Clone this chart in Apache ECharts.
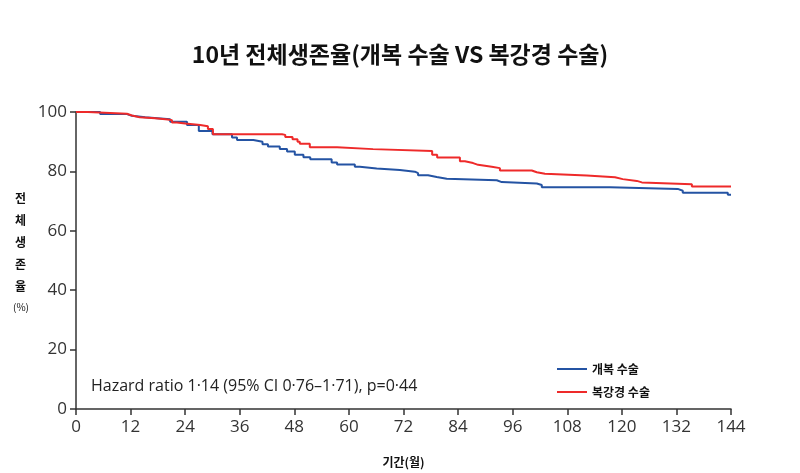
<!DOCTYPE html>
<html>
<head>
<meta charset="utf-8">
<script src="https://cdn.jsdelivr.net/npm/echarts@6/dist/echarts.min.js"></script>
<style>html,body{margin:0;padding:0;background:#fff;}#c{width:800px;height:473px;}</style>
</head>
<body>
<div id="c"></div>
<script>
var titleText = '10년 전체생존율(개복 수술 VS 복강경 수술)';
var seriesNames = ['개복 수술', '복강경 수술'];
var xTicks = [0, 12, 24, 36, 48, 60, 72, 84, 96, 108, 120, 132, 144];
var yTicks = [0, 20, 40, 60, 80, 100];
// [month, survival %] — value after each drop
var openSurgery = [
  [0,100],[5.3,99.3],[11.2,98.7],[12.3,98.2],[15.2,97.6],[20.7,96.7],[24.4,95.6],
  [27,93.6],[30,92.5],[34.3,91.4],[35.4,90.6],[39,90],[41,89.1],[42.2,88.4],
  [44.8,87.5],[46.4,86.7],[48.1,85.6],[50,84.8],[51.5,84.1],[56.2,83],[57.4,82.3],
  [61.3,81.6],[62.4,81],[66.1,80.5],[71.2,79.9],[74.5,79.4],[75.2,78.7],[77.4,78.1],
  [79.3,77.5],[81.5,77],[92.5,76.4],[93.6,75.9],[101.3,75.4],[102.4,74.7],
  [117.4,74.1],[132.3,73.5],[133.4,72.8],[143.3,72.1],[144,72.1]
];
var laparoscopic = [
  [0,100],[2.6,99.4],[11.2,98.8],[12.3,98.2],[14,97.9],[17.4,97.5],[20.2,97.2],
  [21.1,96.5],[22.2,96.1],[24,95.6],[27.3,95.2],[29,94.3],[30.1,92.5],[45.3,92.3],
  [46,91.6],[47.6,90.8],[48.7,90],[49.2,89.3],[51.4,88.1],[57.4,87.5],[65.3,86.9],
  [78.3,85.6],[79.4,84.7],[84.4,83.4],[85.5,82.8],[87.3,82.2],[88.4,81.6],[91.4,81.1],
  [93.2,80.3],[100.2,79.7],[101.3,79.2],[103.1,78.6],[112.3,78],[118.5,77.4],
  [120.2,76.8],[123.3,76.3],[124.4,75.7],[135.4,74.9],[144,74.9]
];
var annotation = 'Hazard ratio 1·14 (95% CI 0·76–1·71), p=0·44';
var xName = '기간(월)';
var yNameChars = ['전', '체', '생', '존', '율'];
var yUnit = '(%)';

// Kaplan–Meier step expansion: hold the previous value until each event time
function toSteps(pts) {
  var out = [pts[0]];
  for (var i = 1; i < pts.length; i++) {
    out.push([pts[i][0], pts[i - 1][1]]);
    out.push([pts[i][0], pts[i][1]]);
  }
  return out;
}

var chart = echarts.init(document.getElementById('c'), null, {renderer: 'canvas'});
var numFont = '"Open Sans", "Noto Sans", sans-serif';
var krFont = '"Noto Sans CJK KR", "Noto Sans", sans-serif';
var graphics = yNameChars.map(function (ch, i) {
  return {type: 'text', left: 15, top: 192 + i * 22,
    style: {text: ch, font: 'bold 12px ' + krFont, fill: '#111'}};
});
graphics.push({type: 'text', left: 13, top: 302,
  style: {text: yUnit, font: '10px ' + krFont, fill: '#111'}});
graphics.push({type: 'text', left: 91, top: 378,
  style: {text: annotation, font: '16px ' + numFont, fill: '#222'}});

chart.setOption({
  backgroundColor: '#fff',
  animation: false,
  title: {text: titleText, left: 'center', top: 38,
    textStyle: {fontFamily: krFont, fontWeight: 'bold', fontSize: 23, color: '#111'}},
  grid: {left: 76, right: 69, top: 112, bottom: 63},
  legend: {
    orient: 'vertical', left: 552, top: 358, itemWidth: 30, itemHeight: 10, itemGap: 11,
    icon: 'path://M0,4L30,4L30,6L0,6Z',
    textStyle: {fontFamily: krFont, fontWeight: 'bold', fontSize: 12, color: '#111'},
    data: seriesNames
  },
  xAxis: {
    type: 'value', min: 0, max: 144, interval: 12,
    name: xName, nameLocation: 'middle', nameGap: 47,
    nameTextStyle: {fontFamily: krFont, fontWeight: 'bold', fontSize: 12, color: '#111'},
    axisLine: {show: true, lineStyle: {color: '#333', width: 1.5}},
    axisTick: {show: true, length: 6, lineStyle: {color: '#333', width: 1.5}},
    axisLabel: {fontFamily: numFont, fontSize: 17, color: '#333', margin: 10,
      formatter: function (v) { return xTicks.indexOf(v) >= 0 ? String(v) : ''; }},
    splitLine: {show: false}
  },
  yAxis: {
    type: 'value', min: 0, max: 100, interval: 20,
    axisLine: {show: true, lineStyle: {color: '#333', width: 1.5}},
    axisTick: {show: true, length: 6, lineStyle: {color: '#333', width: 1.5}},
    axisLabel: {fontFamily: numFont, fontSize: 17, color: '#333', margin: 9,
      formatter: function (v) { return yTicks.indexOf(v) >= 0 ? String(v) : ''; }},
    splitLine: {show: false}
  },
  graphic: graphics,
  series: [
    {name: seriesNames[0], type: 'line', data: toSteps(openSurgery), showSymbol: false,
      color: '#2453a3', lineStyle: {color: '#2453a3', width: 2}},
    {name: seriesNames[1], type: 'line', data: toSteps(laparoscopic), showSymbol: false,
      color: '#ee2a2a', lineStyle: {color: '#ee2a2a', width: 2}}
  ]
});
</script>
</body>
</html>
